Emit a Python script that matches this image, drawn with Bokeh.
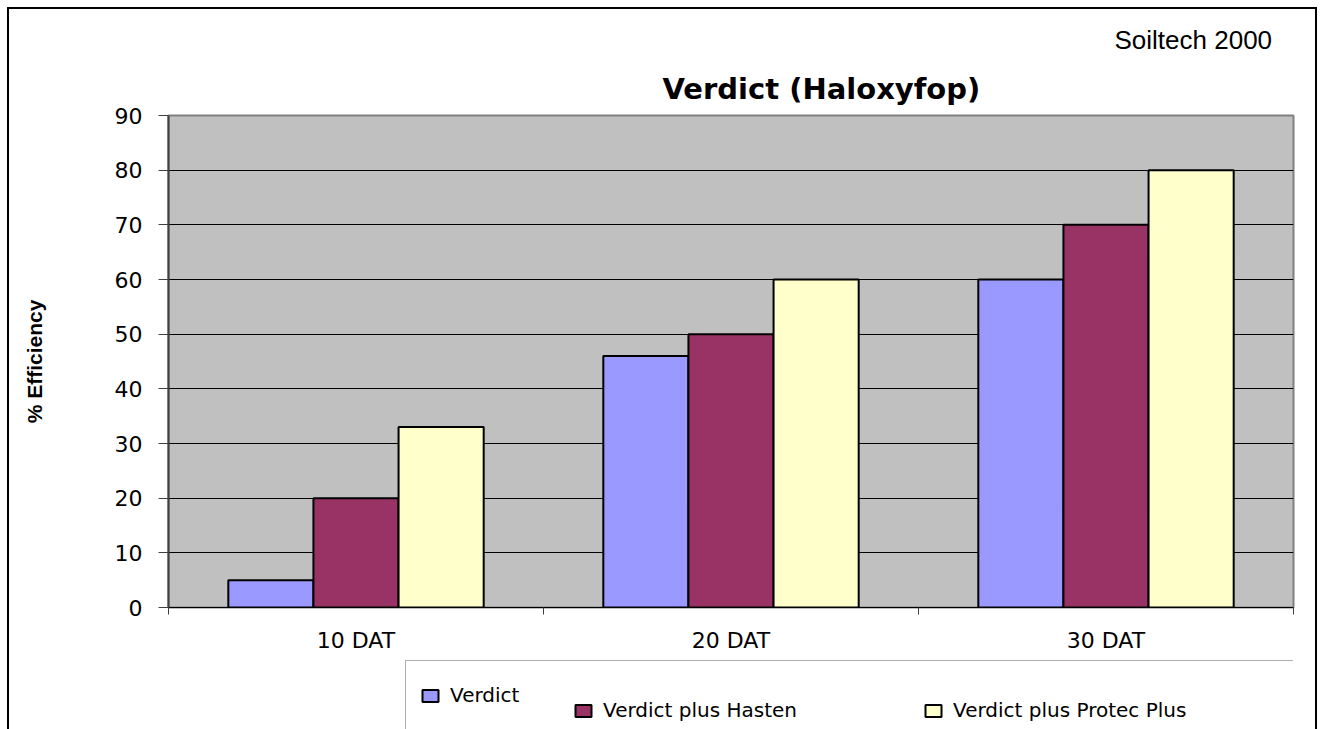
from bokeh.plotting import figure
from bokeh.layouts import column
from bokeh.models import (FactorRange, Range1d, LinearAxis, CategoricalAxis, FixedTicker,
                          Title, Legend, LegendItem, ColumnDataSource)
from bokeh.transform import dodge
from bokeh.embed import file_html
from bokeh.resources import INLINE

# ---- data ----
categories = ["10 DAT", "20 DAT", "30 DAT"]
series_names = ["Verdict", "Verdict plus Hasten", "Verdict plus Protec Plus"]
verdict = [5, 46, 60]
verdict_hasten = [20, 50, 70]
verdict_protec = [33, 60, 80]
y_ticks = [0, 10, 20, 30, 40, 50, 60, 70, 80, 90]
title_text = "Verdict  (Haloxyfop)"
source_note = "Soiltech 2000"
y_label = "% Efficiency"

colors = ["#9999FF", "#993366", "#FFFFCC"]
fields = ["v", "h", "p"]

source = ColumnDataSource(dict(cat=categories, v=verdict, h=verdict_hasten, p=verdict_protec))

# ---------------- main chart ----------------
p = figure(x_range=FactorRange(factors=categories), y_range=Range1d(0, 90),
           frame_width=1125, frame_height=492, output_backend="svg", toolbar_location=None,
           x_axis_location=None,
           min_border_left=159, min_border_right=22, min_border_top=106, min_border_bottom=0)
p.title = None
p.background_fill_color = "#C0C0C0"
p.border_fill_color = "white"
p.outline_line_color = "#808080"
p.outline_line_width = 2
for g in p.xgrid:
    g.visible = False

ya = p.yaxis[0]
ya.ticker = FixedTicker(ticks=y_ticks)
ya.major_tick_in = 0
ya.major_tick_out = 10
ya.minor_tick_line_color = None
ya.major_tick_line_color = "#404040"
ya.axis_line_color = "#404040"
ya.axis_line_width = 2
ya.major_label_standoff = 16
ya.major_label_text_font = "DejaVu Sans"
ya.major_label_text_font_size = "22px"
ya.major_label_text_color = "black"
ya.axis_label = y_label
ya.axis_label_text_font = "Liberation Sans"
ya.axis_label_text_font_style = "bold"
ya.axis_label_text_font_size = "21px"
ya.axis_label_text_color = "black"
ya.axis_label_standoff = 66

p.ygrid.ticker = FixedTicker(ticks=y_ticks)
p.ygrid.grid_line_color = "black"
p.ygrid.grid_line_width = 1

# boundary ticks between categories (synthetic category coordinates) + category labels
tick_axis = LinearAxis(ticker=FixedTicker(ticks=list(range(len(categories) + 1))),
                       major_tick_in=0, major_tick_out=7, minor_tick_line_color=None,
                       major_tick_line_color="#404040", axis_line_color="black", axis_line_width=1,
                       major_label_text_font_size="0px", major_label_text_color=None,
                       major_label_standoff=0)
p.add_layout(tick_axis, "below")

cat_axis = CategoricalAxis(major_tick_line_color=None, major_tick_in=0, major_tick_out=0,
                           axis_line_color=None, major_label_standoff=13,
                           major_label_text_font="DejaVu Sans", major_label_text_font_size="22px",
                           major_label_text_color="black")
p.add_layout(cat_axis, "below")

bw = 0.227
offsets = [-bw, 0, bw]
for f, c, off in zip(fields, colors, offsets):
    p.vbar(x=dodge("cat", off, range=p.x_range), top=f, width=bw, source=source,
           fill_color=c, line_color="black", line_width=2)

p.add_layout(Title(text=title_text, align="left", offset=494, standoff=20,
                   text_font="DejaVu Sans", text_font_style="bold", text_font_size="29px",
                   text_color="black"), "above")
p.add_layout(Title(text=source_note, align="left", offset=946, standoff=9,
                   text_font="Liberation Sans", text_font_style="normal", text_font_size="26px",
                   text_color="black"), "above")

# ---------------- legend strip ----------------
pl = figure(x_range=FactorRange(factors=categories), y_range=Range1d(1000, 1001),
            width=1306, height=76, output_backend="svg", toolbar_location=None,
            x_axis_location=None, y_axis_location=None,
            min_border_left=0, min_border_right=0, min_border_top=0, min_border_bottom=0)
pl.title = None
pl.outline_line_color = None
pl.background_fill_color = "white"
pl.border_fill_color = "white"
for g in pl.grid:
    g.visible = False

leg_renderers = []
for f, c in zip(fields, colors):
    leg_renderers.append(pl.vbar(x="cat", top=f, width=bw, source=source,
                                 fill_color=c, line_color="black", line_width=2))

common = dict(orientation="horizontal", padding=14, glyph_width=20, glyph_height=15,
              label_standoff=10, label_height=40, label_text_font="DejaVu Sans",
              label_text_font_size="20px", label_text_color="black", margin=0, spacing=0)

leg_a = Legend(items=[LegendItem(label=series_names[0], renderers=[leg_renderers[0]])],
               location=(237, 1), label_width=877, border_line_color="#606060",
               border_line_width=1, background_fill_color="white", background_fill_alpha=1,
               **common)
leg_b = Legend(items=[LegendItem(label=series_names[1], renderers=[leg_renderers[1]])],
               location=(405, 1), border_line_color=None, background_fill_alpha=0, **common)
leg_c = Legend(items=[LegendItem(label=series_names[2], renderers=[leg_renderers[2]])],
               location=(755, 1), border_line_color=None, background_fill_alpha=0, **common)
pl.add_layout(leg_a)
pl.add_layout(leg_b)
pl.add_layout(leg_c)

layout = column(p, pl, spacing=0,
                styles={"margin-left": "7px", "margin-top": "7px",
                        "border-left": "2px solid black", "border-right": "2px solid black",
                        "border-top": "2px solid black"})

open("out.html", "w").write(file_html(layout, INLINE))
